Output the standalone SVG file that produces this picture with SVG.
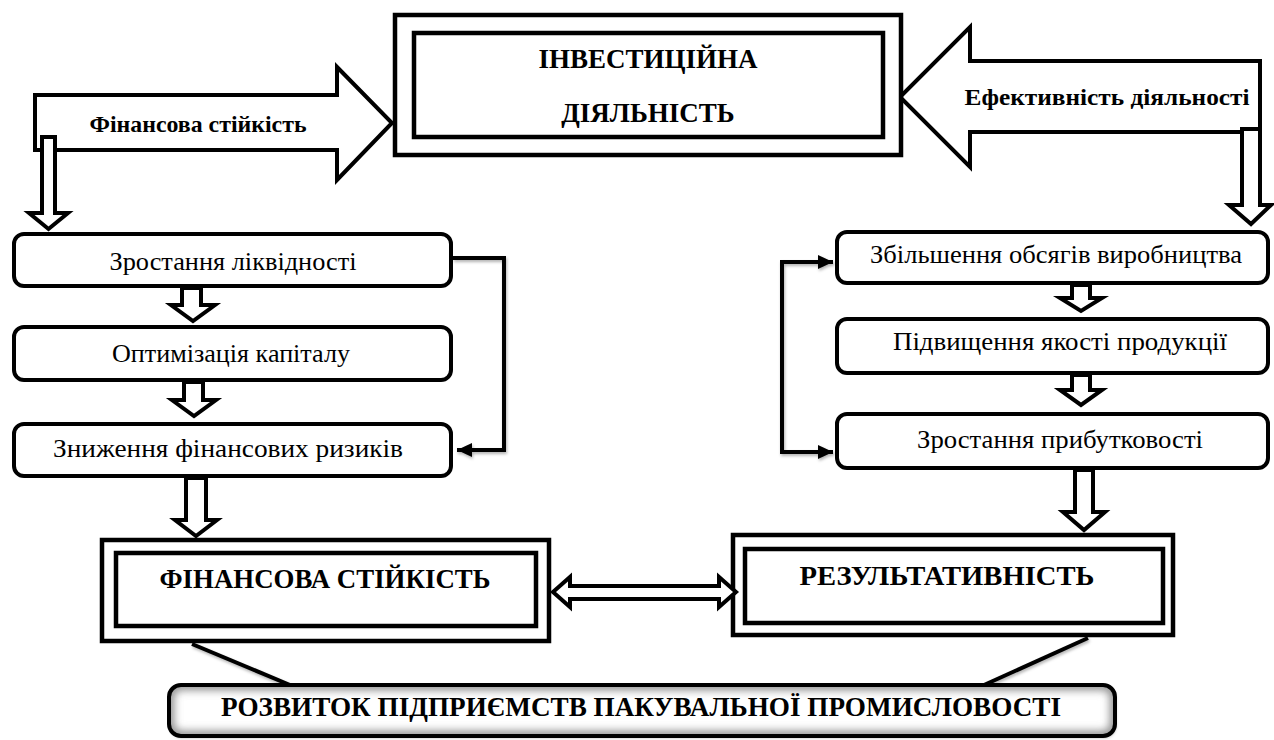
<svg xmlns="http://www.w3.org/2000/svg" width="1274" height="740" viewBox="0 0 1274 740">
<style>
.box{fill:#fff;stroke:#000;stroke-width:4.5}
.rbox{fill:#fff;stroke:#000;stroke-width:4}
.hollow{fill:#fff;stroke:#000;stroke-width:4;stroke-linejoin:miter}
.line{fill:none;stroke:#000;stroke-width:4;stroke-linejoin:miter}
text{font-family:'Liberation Serif','DejaVu Serif','Times New Roman',serif;text-anchor:middle;fill:#000}
.t{font-size:25px}
.b{font-weight:bold}
</style>
<defs>
<marker id="ah" markerUnits="userSpaceOnUse" markerWidth="16" markerHeight="16" viewBox="0 0 16 16" refX="15" refY="8" orient="auto-start-reverse">
<path d="M0,1 L15,8 L0,15 z" fill="#000"/>
</marker>
<filter id="sh" x="-10%" y="-10%" width="120%" height="130%">
<feDropShadow dx="1" dy="2" stdDeviation="1.5" flood-color="#000" flood-opacity="0.3"/>
</filter>
<filter id="blur" x="-5%" y="-20%" width="110%" height="140%">
<feGaussianBlur stdDeviation="4"/>
</filter>
<clipPath id="bclip"><rect x="169" y="685" width="946" height="51" rx="12"/></clipPath>
</defs>

<g id="connectors">
<path class="line" filter="url(#sh)" d="M453 258 H504 V450 H457" marker-end="url(#ah)"/>
<path class="line" filter="url(#sh)" d="M833 262 H782 V452 H833" marker-start="url(#ah)" marker-end="url(#ah)"/>
<path class="line" filter="url(#sh)" d="M457 353 H837" marker-start="url(#ah)" marker-end="url(#ah)"/>
<path class="line" filter="url(#sh)" d="M192 644 L290 685"/>
<path class="line" filter="url(#sh)" d="M1088 638 L984 685"/>
</g>

<g id="arrow-fin">
<polygon class="hollow" points="35,95 337,95 337,67 392,123 337,180 337,150 35,150"/>
<text class="b" x="198" y="132" font-size="24" textLength="217" lengthAdjust="spacingAndGlyphs">Фінансова стійкість</text>
</g>
<g id="arrow-fin-down">
<polygon class="hollow" points="42,137 55,137 55,213 68,213 48.5,229 29,213 42,213"/>
</g>

<g id="arrow-eff">
<polygon class="hollow" points="1260,61 970,61 970,27 900,97 970,167 970,132 1260,132"/>
<text class="b" x="1107" y="105" font-size="24" textLength="285" lengthAdjust="spacingAndGlyphs">Ефективність діяльності</text>
</g>
<g id="arrow-eff-down">
<polygon class="hollow" points="1242,129 1260,129 1260,205 1271,205 1251,224 1229,205 1242,205"/>
</g>

<g id="invest">
<rect class="box" x="395" y="15" width="506" height="140"/>
<rect class="box" x="414" y="33" width="469" height="104"/>
<text class="b" x="648" y="68" font-size="27">ІНВЕСТИЦІЙНА</text>
<text class="b" x="648" y="122" font-size="27">ДІЯЛЬНІСТЬ</text>
</g>

<g id="l1">
<rect class="rbox" x="14" y="234" width="437" height="52" rx="10"/>
<text class="t" x="233" y="270" textLength="247" lengthAdjust="spacingAndGlyphs">Зростання ліквідності</text>
</g>
<g id="l2">
<rect class="rbox" x="14" y="327" width="437" height="53" rx="10"/>
<text class="t" x="231" y="362" textLength="238" lengthAdjust="spacingAndGlyphs">Оптимізація капіталу</text>
</g>
<g id="l3">
<rect class="rbox" x="14" y="424" width="437" height="52" rx="10"/>
<text class="t" x="228" y="457" textLength="350" lengthAdjust="spacingAndGlyphs">Зниження фінансових ризиків</text>
</g>
<g id="la1"><polygon class="hollow" points="182,288 201,288 201,305 215,305 193,321 171,305 182,305"/></g>
<g id="la2"><polygon class="hollow" points="184,382 203,382 203,400 216,400 194,416 172,400 184,400"/></g>

<g id="r1">
<rect class="rbox" x="837" y="232" width="431" height="51" rx="10"/>
<text class="t" x="1056" y="263" textLength="372" lengthAdjust="spacingAndGlyphs">Збільшення обсягів виробництва</text>
</g>
<g id="r2">
<rect class="rbox" x="837" y="319" width="431" height="54" rx="10"/>
<text class="t" x="1060" y="350" textLength="334" lengthAdjust="spacingAndGlyphs">Підвищення якості продукції</text>
</g>
<g id="r3">
<rect class="rbox" x="837" y="414" width="431" height="54" rx="10"/>
<text class="t" x="1060" y="448" textLength="286" lengthAdjust="spacingAndGlyphs">Зростання прибутковості</text>
</g>
<g id="ra1"><polygon class="hollow" points="1072,285 1090,285 1090,298 1102,298 1081,311 1060,298 1072,298"/></g>
<g id="ra2"><polygon class="hollow" points="1072,375 1090,375 1090,390 1102,390 1081,405 1060,390 1072,390"/></g>

<g id="la3"><polygon class="hollow" points="186,478 206,478 206,520 217,520 196,536 175,520 186,520"/></g>
<g id="ra3"><polygon class="hollow" points="1075,470 1093,470 1093,512 1105,512 1084,530 1063,512 1075,512"/></g>

<g id="fin">
<rect class="box" x="102" y="540" width="447" height="101"/>
<rect class="box" x="116" y="553" width="420" height="73"/>
<text class="b" x="325" y="588" font-size="27" textLength="331" lengthAdjust="spacingAndGlyphs">ФІНАНСОВА СТІЙКІСТЬ</text>
</g>
<g id="res">
<rect class="box" x="733" y="535" width="440" height="100"/>
<rect class="box" x="745" y="549" width="418" height="74"/>
<text class="b" x="947" y="585" font-size="27" textLength="295" lengthAdjust="spacingAndGlyphs">РЕЗУЛЬТАТИВНІСТЬ</text>
</g>
<g id="dbl">
<polygon class="hollow" points="553,592 570,577 570,586 719,586 719,577 736,592 719,607 719,599 570,599 570,607"/>
</g>

<g id="dev">
<rect x="169" y="685" width="946" height="51" rx="12" fill="#fff" filter="url(#sh)"/>
<g clip-path="url(#bclip)">
<rect x="169" y="685" width="946" height="51" rx="12" fill="none" stroke="#8a8a8a" stroke-width="10" filter="url(#blur)"/>
</g>
<rect x="169" y="685" width="946" height="51" rx="12" fill="none" stroke="#000" stroke-width="4"/>
<text class="b" x="641" y="716" font-size="27" textLength="840" lengthAdjust="spacingAndGlyphs">РОЗВИТОК ПІДПРИЄМСТВ ПАКУВАЛЬНОЇ ПРОМИСЛОВОСТІ</text>
</g>
</svg>
